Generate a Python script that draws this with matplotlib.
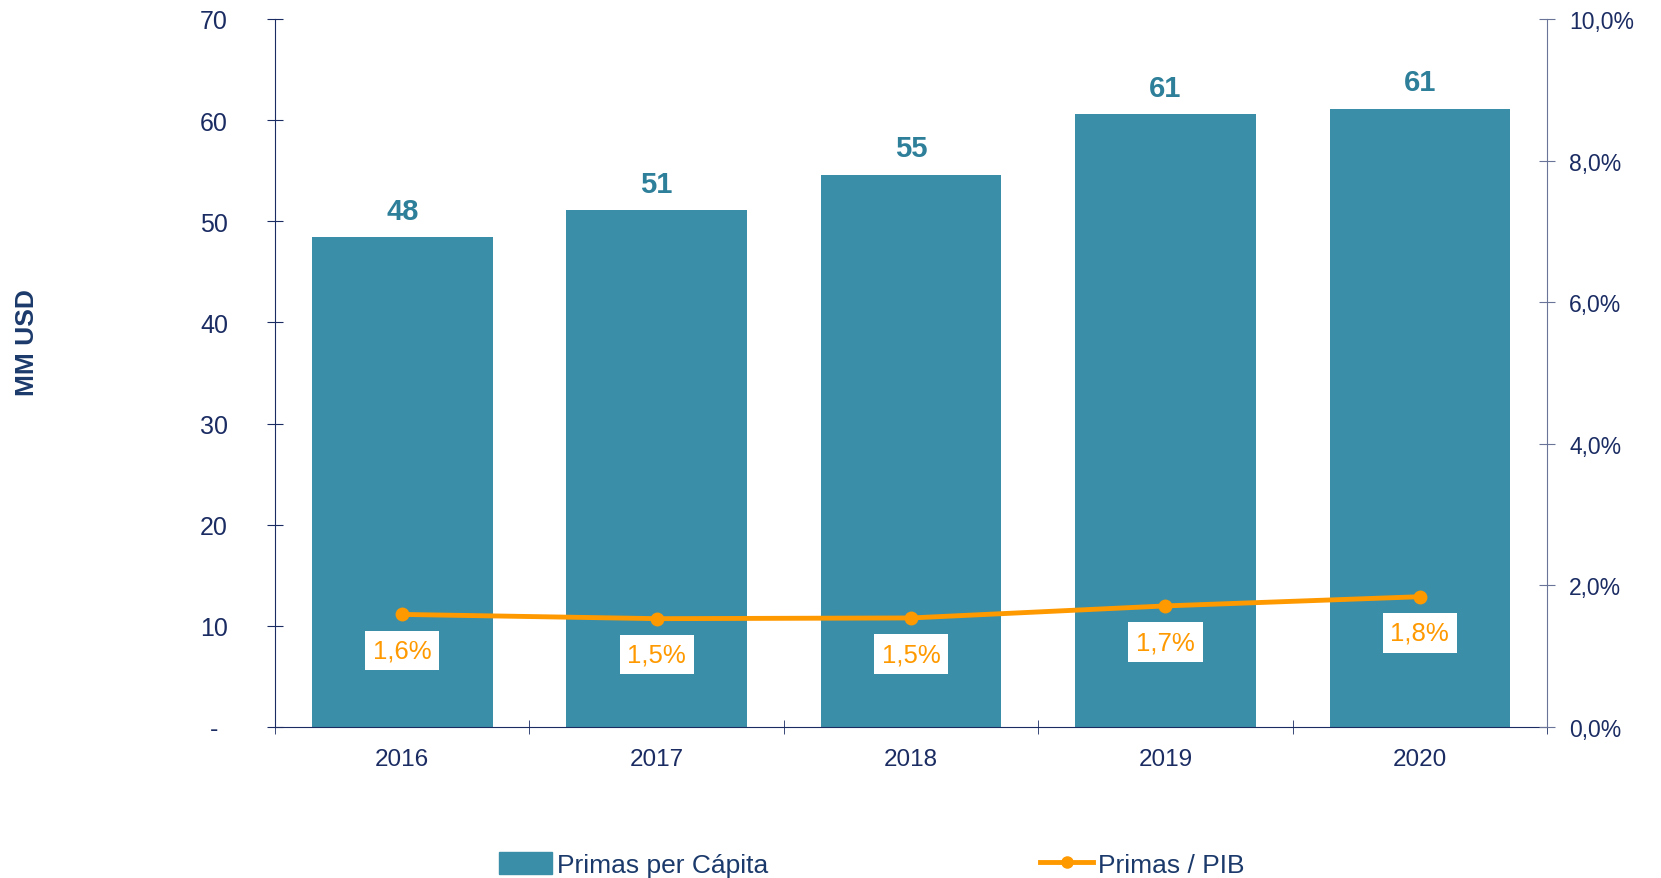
import numpy as np
import matplotlib
matplotlib.use('Agg')
from matplotlib import pyplot as plt
from matplotlib.lines import Line2D
from matplotlib.patches import Patch

years = ['2016', '2017', '2018', '2019', '2020']
primas_per_capita = [48.4, 51.1, 54.6, 60.6, 61.1]
primas_pib = [1.59, 1.53, 1.54, 1.71, 1.84]
bar_labels = ['48', '51', '55', '61', '61']
pib_labels = ['1,6%', '1,5%', '1,5%', '1,7%', '1,8%']
left_ticks = [0, 10, 20, 30, 40, 50, 60, 70]
left_tick_labels = ['-', '10', '20', '30', '40', '50', '60', '70']
right_ticks = [0, 2, 4, 6, 8, 10]
right_tick_labels = ['0,0%', '2,0%', '4,0%', '6,0%', '8,0%', '10,0%']

teal = '#3A8EA8'
navy = '#1B2C63'
orange = '#FF9900'

plt.rcParams['font.family'] = ['Liberation Sans', 'DejaVu Sans']

fig = plt.figure(figsize=(16.61, 8.79), dpi=100)
ax = fig.add_axes([0.1656, 0.1718, 0.7658, 0.8055])
ax2 = ax.twinx()

x = np.arange(len(years))
bars = ax.bar(x, primas_per_capita, width=0.71, color=teal, zorder=2)
ax.set_xlim(-0.5, len(years) - 0.5)
ax.set_ylim(0, 70)
ax.set_yticks(left_ticks)
ax.set_yticklabels(left_tick_labels)

for xi, v, lab in zip(x, primas_per_capita, bar_labels):
    ax.annotate(lab, (xi, v), xytext=(0, 9), textcoords='offset points',
                ha='center', va='bottom', fontsize=21, fontweight='bold', color='#2E7F99')

ax2.plot(x, primas_pib, color=orange, lw=3.5, marker='o', ms=9, zorder=3)
ax2.set_ylim(0, 10)
ax2.set_yticks(right_ticks)
ax2.set_yticklabels(right_tick_labels)
for xi, v, lab in zip(x, primas_pib, pib_labels):
    ax2.annotate(lab, (xi, v), xytext=(0, -26), textcoords='offset points',
                 ha='center', va='center', fontsize=18.5, color=orange,
                 bbox=dict(boxstyle='square,pad=0.3', fc='white', ec='none'))

# category ticks between bars
ax.set_xticks(x)
ax.set_xticklabels(years)
ax.set_xticks(np.arange(-0.5, len(years), 1.0), minor=True)
ax.tick_params(axis='x', which='major', length=0, pad=15, labelsize=17.5, labelcolor=navy)
ax.tick_params(axis='x', which='minor', length=10, direction='inout', color=navy)
ax.tick_params(axis='y', length=12, direction='inout', color=navy, labelsize=18,
               labelcolor=navy, pad=38)
ax2.tick_params(axis='y', length=12, direction='inout', color='#6A7499', labelsize=16.5,
                labelcolor=navy, pad=10)

for s in ['top']:
    ax.spines[s].set_visible(False)
    ax2.spines[s].set_visible(False)
ax.spines['left'].set_color(navy)
ax.spines['bottom'].set_color(navy)
ax2.spines['right'].set_color('#6A7499')
ax2.spines['left'].set_visible(False)
ax2.spines['bottom'].set_visible(False)
ax.spines['right'].set_visible(False)
for yl in ax.get_yticklabels():
    yl.set_horizontalalignment('center')

fig.text(0.016, 0.61, 'MM USD', rotation=90, ha='center', va='center',
         fontsize=19, fontweight='bold', color='#1B3A6B')

handles = [Patch(color=teal),
           Line2D([0], [0], color=orange, lw=3.5, marker='o', ms=8)]
fig.legend(handles, ['Primas per Cápita', 'Primas / PIB'], loc='center',
           bbox_to_anchor=(0.525, 0.015), ncol=2, frameon=False, fontsize=19,
           handlelength=2.0, handleheight=0.9, handletextpad=0.2, columnspacing=10.3,
           labelcolor='#1B3A6B')

fig.savefig('out.png', dpi=100)
